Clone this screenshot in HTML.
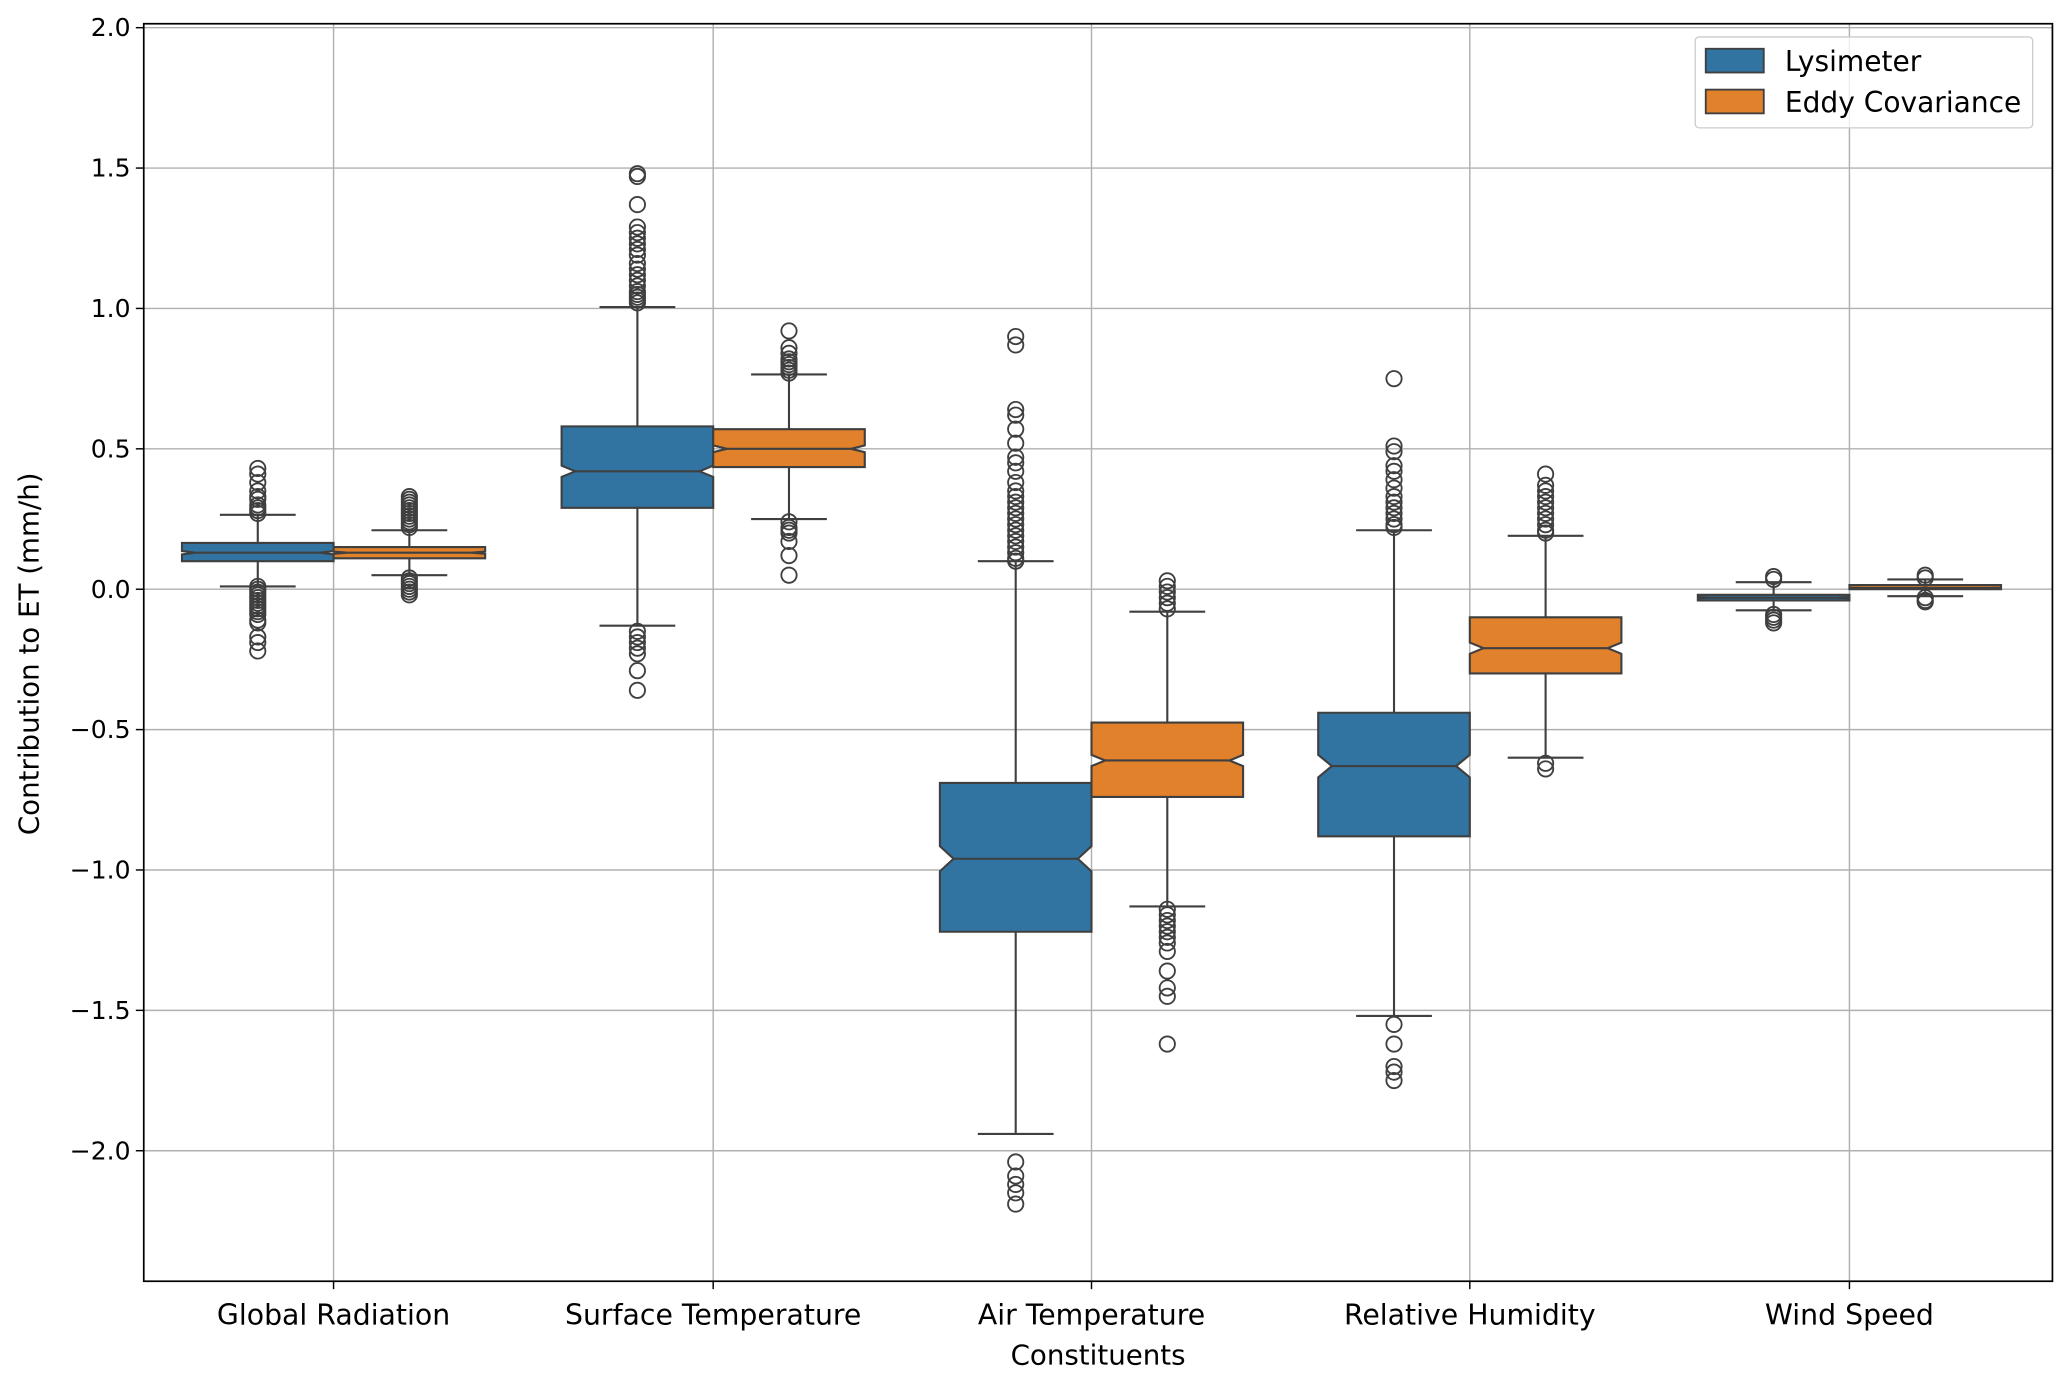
<!DOCTYPE html>
<html><head><meta charset="utf-8"><style>
html,body{margin:0;padding:0;background:#fff}
svg{display:block;font-family:"DejaVu Sans","Liberation Sans",sans-serif}
</style></head><body>
<svg id="chart" width="2067" height="1383" viewBox="0 0 1568 1049.2" xmlns="http://www.w3.org/2000/svg">
<rect x="0" y="0" width="1568" height="1050" fill="#fff"/>
<g id="grid"></g>
<g id="marks"></g>
<g id="axes"></g>
<g id="legend">
 <rect x="1286" y="28" width="256" height="69" fill="#fff" fill-opacity="0.8" stroke="#cccccc" stroke-width="1" rx="3"/>
 <g>
  <rect x="1294" y="37" width="44" height="18" fill="#3274a1" stroke="#3f3f3f" stroke-width="1.4"/>
  <text x="1354" y="54" font-size="21.3" fill="#000">Lysimeter</text>
 </g>
 <g>
  <rect x="1294" y="68" width="44" height="18" fill="#e1812c" stroke="#3f3f3f" stroke-width="1.4"/>
  <text x="1354" y="85" font-size="21.3" fill="#000">Eddy Covariance</text>
 </g>
</g>
</svg>
<script>
const categories=["Global Radiation","Surface Temperature","Air Temperature","Relative Humidity","Wind Speed"];
const series=["Lysimeter","Eddy Covariance"];
const colors=["#3274a1","#e1812c"];
const yTicks=[-2.0,-1.5,-1.0,-0.5,0.0,0.5,1.0,1.5,2.0];
const yTickLabels=["\u22122.0","\u22121.5","\u22121.0","\u22120.5","0.0","0.5","1.0","1.5","2.0"];
const q1=[[0.10,0.11],[0.29,0.435],[-1.22,-0.74],[-0.88,-0.30],[-0.04,0.0]];
const med=[[0.13,0.13],[0.42,0.50],[-0.96,-0.61],[-0.63,-0.21],[-0.03,0.005]];
const q3=[[0.165,0.15],[0.58,0.57],[-0.69,-0.475],[-0.44,-0.10],[-0.02,0.015]];
const whiskLo=[[0.01,0.05],[-0.13,0.25],[-1.94,-1.13],[-1.52,-0.60],[-0.075,-0.025]];
const whiskHi=[[0.265,0.21],[1.005,0.765],[0.10,-0.08],[0.21,0.19],[0.025,0.035]];
const notchH=[[0.006,0.004],[0.02,0.012],[0.045,0.02],[0.04,0.02],[0.002,0.001]];
const outliers=[
 [[0.43,0.41,0.38,0.35,0.33,0.32,0.30,0.29,0.28,0.27,0.01,0.0,-0.01,-0.02,-0.03,-0.04,-0.05,-0.06,-0.07,-0.08,-0.09,-0.11,-0.12,-0.17,-0.19,-0.22],
  [0.33,0.32,0.31,0.30,0.29,0.28,0.27,0.26,0.25,0.24,0.23,0.22,0.04,0.03,0.02,0.01,0.0,-0.01,-0.02]],
 [[1.48,1.47,1.37,1.29,1.27,1.25,1.23,1.21,1.19,1.16,1.14,1.12,1.10,1.08,1.06,1.05,1.04,1.03,1.02,-0.15,-0.17,-0.19,-0.21,-0.23,-0.29,-0.36],
  [0.92,0.86,0.84,0.82,0.81,0.80,0.79,0.78,0.77,0.24,0.22,0.21,0.20,0.17,0.12,0.05]],
 [[0.90,0.87,0.64,0.62,0.57,0.52,0.47,0.45,0.42,0.38,0.35,0.33,0.31,0.29,0.27,0.25,0.23,0.21,0.19,0.17,0.15,0.13,0.11,0.10,-2.04,-2.09,-2.12,-2.15,-2.19],
  [0.03,0.01,-0.01,-0.03,-0.05,-0.07,-1.14,-1.16,-1.18,-1.20,-1.22,-1.24,-1.26,-1.29,-1.36,-1.42,-1.45,-1.62]],
 [[0.75,0.51,0.49,0.44,0.42,0.39,0.36,0.33,0.31,0.29,0.27,0.25,0.23,0.22,-1.55,-1.62,-1.70,-1.72,-1.75],
  [0.41,0.37,0.35,0.33,0.31,0.29,0.27,0.25,0.23,0.21,0.20,-0.62,-0.64]],
 [[0.045,0.035,-0.09,-0.10,-0.11,-0.12],
  [0.05,0.04,-0.03,-0.04,-0.045]]
];
const NS="http://www.w3.org/2000/svg";
const L=109,R=1557,T=18,B=972;
const y0=447,ppu=213;
function Y(v){return y0-v*ppu;}
const catX=[253,541,828,1115,1403];
function X(i){return catX[i];}
const bw=115;
function mk(tag,attrs,parent){const e=document.createElementNS(NS,tag);for(const k in attrs)e.setAttribute(k,attrs[k]);parent.appendChild(e);return e;}
const grid=document.getElementById('grid'),marks=document.getElementById('marks'),axes=document.getElementById('axes');
yTicks.forEach((v,i)=>{
 const g=mk('line',{x1:L,x2:R,y1:Y(v),y2:Y(v),stroke:'#b0b0b0','stroke-width':1.1},grid);
 
 
 mk('line',{x1:L-6,x2:L,y1:Y(v),y2:Y(v),stroke:'#000','stroke-width':1.1},axes);
 const t=mk('text',{x:L-10,y:Y(v)+6.5,'text-anchor':'end','font-size':19},axes);
 t.textContent=yTickLabels[i];
 
 
});
categories.forEach((c,i)=>{
 const g=mk('line',{x1:X(i),x2:X(i),y1:T,y2:B,stroke:'#b0b0b0','stroke-width':1.1},grid);
 
 
 mk('line',{x1:X(i),x2:X(i),y1:B,y2:B+6,stroke:'#000','stroke-width':1.1},axes);
 const t=mk('text',{x:X(i),y:B+33,'text-anchor':'middle','font-size':21.5},axes);
 t.textContent=c;
 
 
});
categories.forEach((c,i)=>{
 series.forEach((s,j)=>{
  const cx=X(i)+(j===0?-bw/2:bw/2);
  const g=mk('g',{},marks);
  
  
  const st={stroke:'#3f3f3f','stroke-width':1.6,fill:'none'};
  mk('line',Object.assign({x1:cx,x2:cx,y1:Y(q1[i][j]),y2:Y(whiskLo[i][j])},st),g);
  mk('line',Object.assign({x1:cx,x2:cx,y1:Y(q3[i][j]),y2:Y(whiskHi[i][j])},st),g);
  mk('line',Object.assign({x1:cx-bw/4,x2:cx+bw/4,y1:Y(whiskLo[i][j]),y2:Y(whiskLo[i][j])},st),g);
  mk('line',Object.assign({x1:cx-bw/4,x2:cx+bw/4,y1:Y(whiskHi[i][j]),y2:Y(whiskHi[i][j])},st),g);
  const l=cx-bw/2,r=cx+bw/2,ind=bw*0.09;
  const m=med[i][j],n=notchH[i][j];
  const lo=Math.max(q1[i][j],m-n),hi=Math.min(q3[i][j],m+n);
  const pts=[[l,Y(q1[i][j])],[r,Y(q1[i][j])],[r,Y(lo)],[r-ind,Y(m)],[r,Y(hi)],[r,Y(q3[i][j])],[l,Y(q3[i][j])],[l,Y(hi)],[l+ind,Y(m)],[l,Y(lo)]];
  mk('polygon',{points:pts.map(p=>p.join(',')).join(' '),fill:colors[j],stroke:'#3f3f3f','stroke-width':1.6},g);
  mk('line',Object.assign({x1:l+ind,x2:r-ind,y1:Y(m),y2:Y(m)},st),g);
  outliers[i][j].forEach(v=>{
   const o=mk('circle',{cx:cx,cy:Y(v),r:5.8,fill:'none',stroke:'#3f3f3f','stroke-width':1.4},g);
   
   
  });
 });
});
const fr=mk('rect',{x:L,y:T,width:R-L,height:B-T,fill:'none',stroke:'#000','stroke-width':1.3},axes);


const xl=mk('text',{x:(L+R)/2,y:1035,'text-anchor':'middle','font-size':21},axes);
xl.textContent='Constituents';


const yl=mk('text',{x:0,y:0,'text-anchor':'middle','font-size':21,transform:'translate(29,496) rotate(-90)'},axes);
yl.textContent='Contribution to ET (mm/h)';


</script>
</body></html>
